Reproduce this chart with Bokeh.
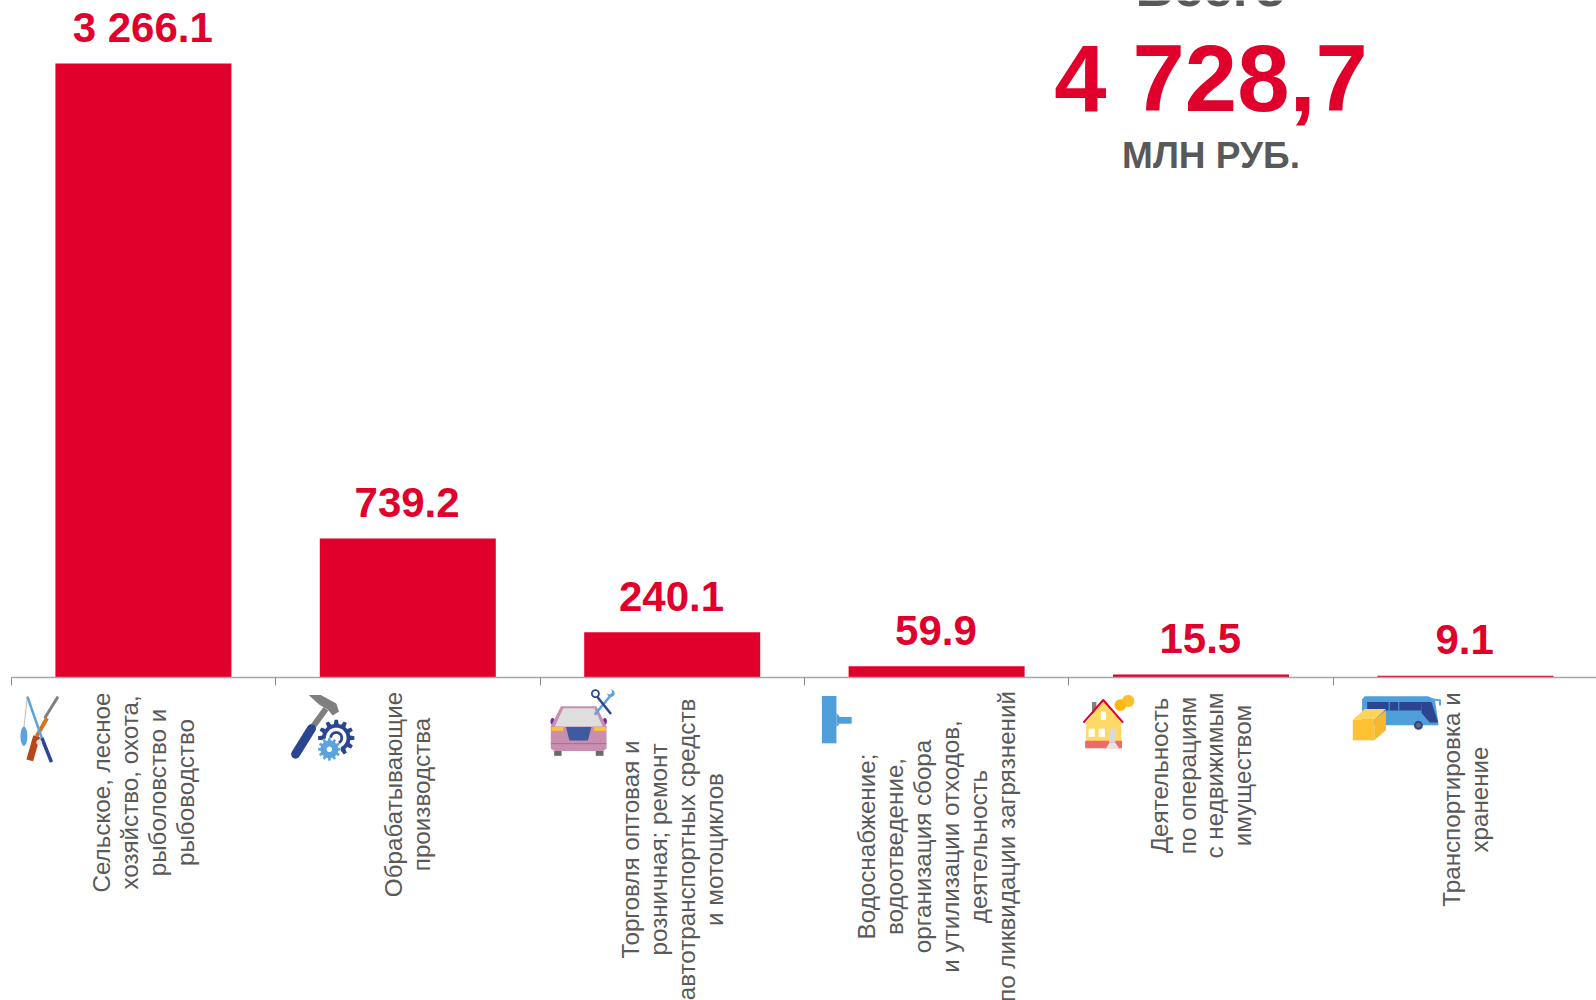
import math
from bokeh.plotting import figure
from bokeh.models import Range1d, FixedTicker, ColumnDataSource
from bokeh.core.properties import value
from bokeh.embed import file_html
from bokeh.resources import INLINE

categories = [
    ["Сельское, лесное", "хозяйство, охота,", "рыболовство и", "рыбоводство"],
    ["Обрабатывающие", "производства"],
    ["Торговля оптовая и", "розничная; ремонт", "автотранспортных средств", "и мотоциклов"],
    ["Водоснабжение;", "водоотведение,", "организация сбора", "и утилизации отходов,", "деятельность", "по ликвидации загрязнений"],
    ["Деятельность", "по операциям", "с недвижимым", "имуществом"],
    ["Транспортировка и", "хранение"],
]
values = [3266.1, 739.2, 240.1, 59.9, 15.5, 9.1]
value_labels = ["3 266.1", "739.2", "240.1", "59.9", "15.5", "9.1"]
total_title = "Всего"
total_value = "4 728,7"
total_unit = "МЛН РУБ."

RED = "#E1002B"
GREY = "#595959"
FONT = value("Liberation Sans")
W, H = 1596, 1000
AXIS_Y, UNIT_PX = 677, 614 / 3266.1
CAT_W, AXIS_X = 264.4, 10.7
label_centres = [792, 794, 849, 846, 775, 799]
LINE_PITCH = 27.9

p = figure(width=W, height=H, output_backend="svg", toolbar_location=None,
           x_range=Range1d(-AXIS_X / CAT_W, (W - AXIS_X) / CAT_W),
           y_range=Range1d(-(H - AXIS_Y) / UNIT_PX, AXIS_Y / UNIT_PX),
           min_border=0, outline_line_color=None,
           background_fill_color="white", border_fill_color="white")
p.extra_x_ranges = {"px": Range1d(0, W)}
p.extra_y_ranges = {"px": Range1d(H, 0)}
p.grid.visible = False
p.yaxis.visible = False

xa = p.xaxis[0]
xa.fixed_location = 0
xa.bounds = (0, len(values))
xa.ticker = FixedTicker(ticks=list(range(len(values) + 1)))
xa.major_label_text_color = None
xa.major_label_text_font_size = "1px"
xa.minor_tick_line_color = None
xa.axis_line_color = "#A6A6A6"
xa.axis_line_width = 1.6
xa.major_tick_line_color = "#8C8C8C"
xa.major_tick_line_width = 1
xa.major_tick_in = 0
xa.major_tick_out = 8

pos = [i + 0.5 for i in range(len(values))]
p.vbar(x=pos, top=values, bottom=0, width=176 / CAT_W, color=RED, line_color=None)
p.text(x=pos, y=values, text=value_labels, text_font=FONT, text_font_style="bold",
       text_font_size="42px", text_color=RED, text_align="center",
       text_baseline="alphabetic", y_offset=-36, x_offset=-0.7)

# category captions, one rotated row per line
rows = dict(x=[], y=[], t=[], off=[])
for i, lines in enumerate(categories):
    for j, line_text in enumerate(lines):
        rows["x"].append(pos[i])
        rows["y"].append(label_centres[i])
        rows["t"].append(line_text)
        rows["off"].append((j - (len(lines) - 1) / 2) * LINE_PITCH)
p.text(x="x", y="y", text="t", x_offset="off", source=ColumnDataSource(rows), y_range_name="px",
       angle=math.pi / 2, text_font=FONT, text_font_size="24.2px", text_color=GREY,
       text_align="center", text_baseline="middle")

# total block
for txt, y, size, col in [(total_title, -13, "53px", GREY), (total_value, 78, "94px", RED), (total_unit, 155, "37px", GREY)]:
    p.text(x=[1210.5], y=[y], text=[txt], x_range_name="px", y_range_name="px", text_font=FONT,
           text_font_style="bold", text_font_size=size, text_color=col, text_align="center",
           text_baseline="alphabetic")

# ---- decorative icons, described in their own local coordinates ----
def mapper(ox, oy, s):
    return lambda pts: ([ox + a / s for a, b in pts], [oy + b / s for a, b in pts])

def poly(m, pts, color):
    xs, ys = m(pts)
    p.patch(xs, ys, fill_color=color, line_color=None, x_range_name="px", y_range_name="px")

def rect(m, x0, y0, x1, y1, color):
    poly(m, [(x0, y0), (x1, y0), (x1, y1), (x0, y1)], color)

def line(m, pts, color, w, cap="round"):
    xs, ys = m(pts)
    p.line(xs, ys, line_color=color, line_width=w, line_cap=cap, line_join="round",
           x_range_name="px", y_range_name="px")

def ell(m, cx, cy, rx, ry, color):
    poly(m, [(cx + rx * math.cos(t * math.pi / 20), cy + ry * math.sin(t * math.pi / 20)) for t in range(40)], color)

def gear(m, cx, cy, r, teeth, color):
    pts = []
    for k in range(teeth):
        a = 2 * math.pi * k / teeth
        d = 2 * math.pi / teeth
        for da, rr in [(-.32, .78), (-.18, 1), (.18, 1), (.32, .78)]:
            pts.append((cx + r * rr * math.cos(a + da * d), cy + r * rr * math.sin(a + da * d)))
    poly(m, pts, color)

# fishing and hunting
m = mapper(0, 660, 2.904)
line(m, [(78, 105), (68, 195)], "#BFBFBF", 1)
ell(m, 68, 220, 10, 28, "#5BA3DC")
line(m, [(165, 108), (130, 165)], "#7F7F7F", 3)
line(m, [(135, 168), (105, 220)], "#D9731A", 4, "butt")
line(m, [(105, 220), (85, 290)], "#B5471B", 7, "butt")
line(m, [(78, 105), (120, 225)], "#5BA3DC", 2.5, "butt")
line(m, [(120, 225), (148, 295)], "#2B4590", 3.5, "butt")
ell(m, 112, 238, 8, 8, "#E4E4E4")

# hammer and gears
m = mapper(0, 660, 2.904)
poly(m, [(895, 100), (930, 100), (975, 125), (983, 148), (965, 160), (950, 142), (925, 128)], "#7F7F7F")
line(m, [(945, 140), (905, 195)], "#7F7F7F", 6, "butt")
line(m, [(903, 198), (857, 272)], "#2B4590", 9)
gear(m, 975, 225, 53, 12, "#2B4590")
ell(m, 975, 225, 30, 30, "white")
ell(m, 975, 225, 20, 20, "#2B4590")
ell(m, 975, 225, 12, 12, "white")
ell(m, 955, 258, 34, 34, "white")
gear(m, 955, 258, 33, 12, "#5BA3DC")
ell(m, 955, 258, 8, 8, "white")

# car and scissors
m = mapper(530, 660, 2.958)
ell(m, 65, 180, 6, 10, "#7030A0")
ell(m, 220, 180, 6, 10, "#7030A0")
rect(m, 70, 265, 92, 282, "#6B6B6B")
rect(m, 193, 265, 216, 282, "#6B6B6B")
poly(m, [(60, 195), (90, 135), (195, 135), (225, 195), (225, 260), (215, 268), (70, 268), (60, 260)], "#C88FB0")
poly(m, [(72, 195), (97, 141), (188, 141), (214, 195)], "#DEDEDE")
rect(m, 62, 197, 97, 208, "#FFC233")
rect(m, 188, 197, 223, 208, "#FFC233")
poly(m, [(105, 197), (180, 197), (170, 237), (115, 237)], "#3F5AA0")
line(m, [(62, 246), (223, 246)], "#A569A0", 1)
line(m, [(190, 160), (240, 100)], "#5BA3DC", 2.5, "butt")
line(m, [(238, 158), (198, 108)], "#2B4590", 2.5, "butt")
ell(m, 192, 98, 13, 13, "#2B4590")
ell(m, 192, 98, 8, 8, "white")
ell(m, 238, 97, 11, 11, "#5BA3DC")
ell(m, 233, 92, 8, 8, "white")

# water pipe
m = mapper(530, 660, 2.958)
rect(m, 862, 105, 905, 245, "#4F9FDB")
rect(m, 905, 167, 950, 187, "#4F9FDB")
poly(m, [(905, 155), (915, 167), (905, 167)], "#4F9FDB")
poly(m, [(905, 197), (915, 187), (905, 187)], "#4F9FDB")

# house and coins
m = mapper(1060, 640, 2.925)
rect(m, 92, 180, 105, 215, "#7F7F7F")
poly(m, [(125, 175), (75, 240), (75, 295), (178, 295), (178, 240)], "#FFD966")
rect(m, 72, 293, 180, 315, "#F06A6A")
line(m, [(67, 240), (125, 174), (183, 240)], RED, 2, "butt")
rect(m, 118, 208, 133, 232, "white")
rect(m, 82, 258, 100, 282, "white")
rect(m, 112, 258, 130, 282, "white")
rect(m, 142, 258, 160, 298, "#D9D9D9")
poly(m, [(133, 315), (171, 315), (160, 298), (144, 298)], "#E4E4E4")
ell(m, 198, 177, 18, 18, "#FBC02D")
ell(m, 175, 189, 17, 17, "#FDB813")

# bus and parcel
m = mapper(1060, 640, 2.925)
poly(m, [(882, 172), (890, 163), (1075, 163), (1095, 172), (1106, 248), (882, 248)], "#4F9FDB")
rect(m, 897, 180, 1055, 205, "#2B4590")
rect(m, 960, 180, 963, 205, "#4F9FDB")
rect(m, 988, 180, 991, 205, "#4F9FDB")
poly(m, [(1055, 180), (1085, 180), (1105, 240), (1080, 240), (1056, 212)], "#2B4590")
line(m, [(1085, 172), (1110, 175), (1110, 190)], "#5BA3DC", 2, "butt")
ell(m, 1047, 248, 13, 13, "#2B4590")
ell(m, 1047, 248, 7, 7, "#6B6B6B")
rect(m, 855, 232, 918, 292, "#FFC233")
poly(m, [(918, 232), (952, 205), (952, 262), (918, 292)], "#F5B82E")
poly(m, [(855, 232), (890, 200), (952, 200), (918, 232)], "#FFD35C")

open("out.html", "w").write(file_html(p, INLINE))
